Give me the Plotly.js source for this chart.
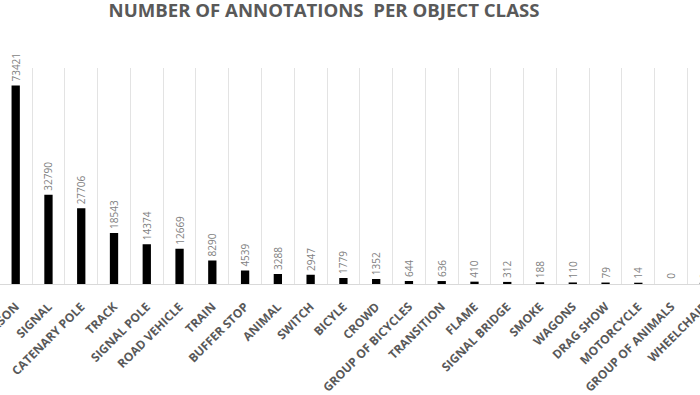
<!DOCTYPE html>
<html>
<head>
<meta charset="utf-8">
<script src="https://cdn.plot.ly/plotly-3.0.1.min.js"></script>
<style>
html, body { margin: 0; padding: 0; width: 700px; height: 395px; overflow: hidden; background: #fff; }
#chart { width: 760px; height: 395px; }
</style>
</head>
<body>
<div id="chart"></div>
<script>
const categories = ["PERSON", "SIGNAL", "CATENARY POLE", "TRACK", "SIGNAL POLE", "ROAD VEHICLE", "TRAIN", "BUFFER STOP", "ANIMAL", "SWITCH", "BICYLE", "CROWD", "GROUP OF BICYCLES", "TRANSITION", "FLAME", "SIGNAL BRIDGE", "SMOKE", "WAGONS", "DRAG SHOW", "MOTORCYCLE", "GROUP OF ANIMALS", "WHEELCHAIR"];
const counts = [73421, 32790, 27706, 18543, 14374, 12669, 8290, 4539, 3288, 2947, 1779, 1352, 644, 636, 410, 312, 188, 110, 79, 14, 0, 2];
const chartTitle = "NUMBER OF ANNOTATIONS\u00A0\u00A0PER OBJECT CLASS";

const W = 760, H = 395;
const firstCenter = 15.7, step = 32.77;
const r0 = -firstCenter / step;
const r1 = r0 + W / step;

const trace = {
  type: "bar",
  x: categories,
  y: counts,
  marker: {
    color: "#000000",
    line: { color: "#000000", width: counts.map(v => (v > 0 ? 2.5 : 0)) }
  },
  text: counts.map(v => "\u00A0\u00A0" + v),
  textposition: "outside",
  textangle: -90,
  constraintext: "none",
  cliponaxis: false,
  textfont: { family: "Open Sans, sans-serif", size: 10, color: "#7f7f7f" },
  hoverinfo: "none"
};

const layout = {
  width: W, height: H,
  margin: { l: 0, r: 0, t: 68, b: 111, pad: 0 },
  paper_bgcolor: "#ffffff",
  plot_bgcolor: "#ffffff",
  bargap: 0.823,
  showlegend: false,
  title: {
    text: chartTitle,
    font: { family: "Open Sans, sans-serif", size: 18.6, color: "#595959", weight: 700 },
    xref: "container", yref: "container",
    x: 324 / W, y: 1 - 10 / H, xanchor: "center", yanchor: "middle"
  },
  xaxis: {
    type: "category",
    range: [r0, r1],
    tickson: "boundaries",
    showgrid: true,
    gridcolor: "#e3e3e3",
    gridwidth: 1,
    showline: true,
    linecolor: "#d9d9d9",
    linewidth: 1,
    ticks: "",
    tickangle: -45,
    ticklabelstandoff: 10,
    tickfont: { family: "Open Sans, sans-serif", size: 12, color: "#595959", weight: 700 },
    fixedrange: true
  },
  yaxis: {
    range: [0, 80400],
    showgrid: false,
    zeroline: false,
    showticklabels: false,
    showline: false,
    ticks: "",
    fixedrange: true
  }
};

Plotly.newPlot("chart", [trace], layout, { staticPlot: true, displayModeBar: false });
</script>
</body>
</html>
